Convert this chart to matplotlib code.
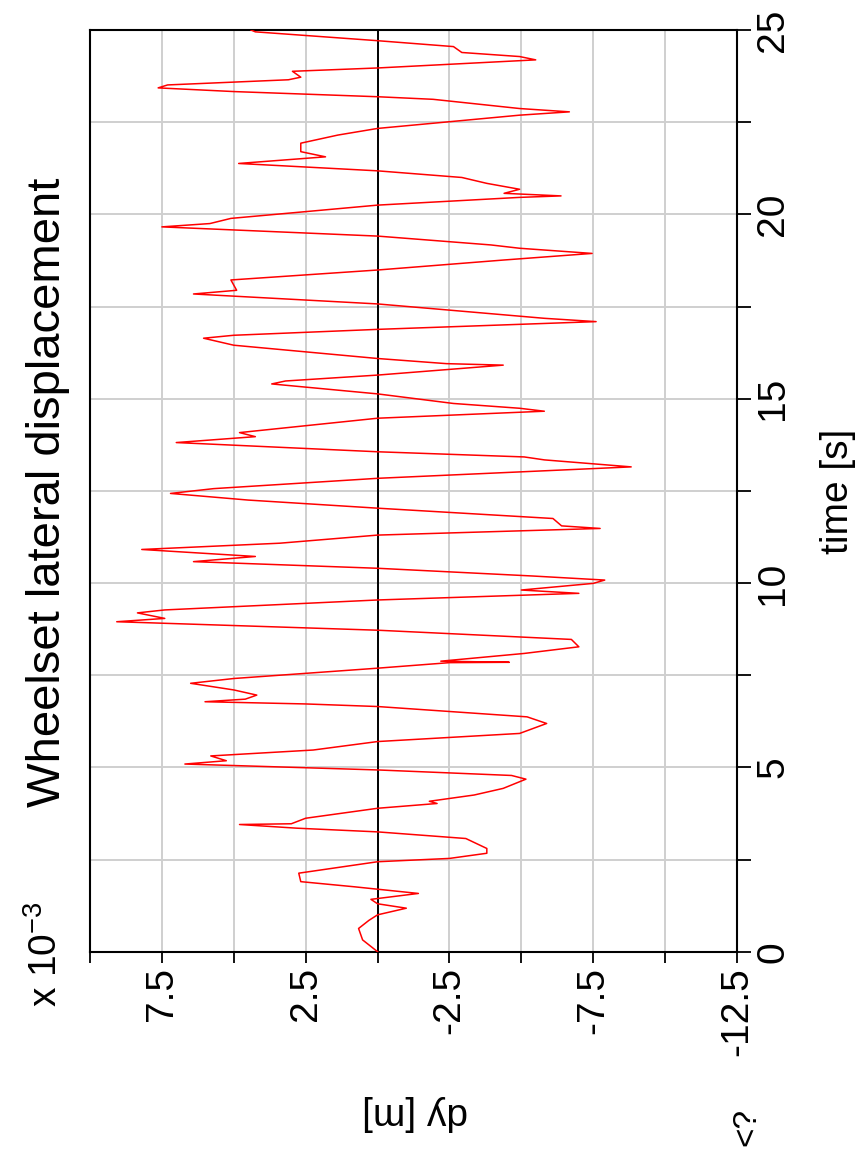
import numpy as np
import matplotlib
matplotlib.use('Agg')
import matplotlib.pyplot as plt
from matplotlib.ticker import MultipleLocator

plt.rcParams['font.family'] = ['Liberation Sans', 'DejaVu Sans']

# time [s] and lateral displacement dy [x 1e-3 m]
time = [0.00, 0.32, 0.63, 0.85, 1.00, 1.18, 1.30, 1.42, 1.58, 1.76, 1.90, 2.13,
        2.44, 2.53, 2.67, 2.80, 3.07, 3.25, 3.35, 3.45, 3.47, 3.62, 3.89, 4.02,
        4.08, 4.25, 4.43, 4.68, 4.78, 4.93, 5.09, 5.18, 5.31, 5.47, 5.70, 5.92,
        6.19, 6.37, 6.65, 6.72, 6.78, 6.85, 6.96, 7.10, 7.28, 7.41, 7.69, 7.84,
        7.85, 7.88, 8.09, 8.27, 8.47, 8.72, 8.95, 9.04, 9.19, 9.27, 9.54, 9.72,
        9.81, 9.99, 10.08, 10.19, 10.40, 10.58, 10.72, 10.91, 11.08, 11.30, 11.48,
        11.55, 11.75, 12.03, 12.25, 12.43, 12.56, 12.84, 13.15, 13.34, 13.42,
        13.56, 13.81, 13.97, 14.08, 14.47, 14.66, 14.74, 14.87, 15.13, 15.40,
        15.48, 15.64, 15.91, 15.95, 16.09, 16.45, 16.64, 16.72, 16.88, 17.09,
        17.18, 17.57, 17.84, 17.94, 18.22, 18.49, 18.76, 18.94, 19.08, 19.17,
        19.41, 19.66, 19.75, 19.89, 20.25, 20.46, 20.50, 20.57, 20.68, 20.84,
        21.00, 21.18, 21.38, 21.56, 21.70, 21.93, 22.15, 22.33, 22.69, 22.78,
        22.87, 23.12, 23.19, 23.33, 23.43, 23.51, 23.65, 23.72, 23.88, 23.97,
        24.19, 24.28, 24.39, 24.55, 24.71, 24.95, 25.00]
dy = [0.0, 0.52, 0.66, 0.3, 0.0, -1.0, 0.0, 0.23, -1.42, 0.8, 2.67, 2.74,
      0.0, -2.5, -3.8, -3.8, -3.07, 0.0, 2.8, 4.8, 3.0, 2.5, 0.0, -2.07,
      -1.8, -3.36, -4.37, -5.16, -4.66, 0.0, 6.7, 5.26, 5.8, 2.24, 0.0, -4.94,
      -5.88, -5.2, 0.0, 2.5, 6.0, 4.6, 4.2, 5.0, 6.5, 5.0, 0.0, -2.5,
      -4.58, -2.2, -5.1, -7.0, -6.74, 0.0, 9.07, 7.4, 8.35, 7.4, 0.0, -7.0,
      -5.0, -7.5, -7.9, -5.4, 0.0, 6.4, 4.25, 8.2, 3.4, 0.0, -7.74,
      -6.4, -6.1, 0.0, 4.5, 7.2, 5.7, 0.0, -8.82, -5.8, -5.1,
      0.0, 7.0, 4.25, 4.8, 0.0, -5.8, -4.94, -2.64, 0.0, 3.68,
      3.2, 0.0, -4.37, -2.4, 0.0, 5.0, 6.05, 5.0, 0.0, -7.6,
      -5.8, 0.0, 6.4, 4.9, 5.1, 0.0, -4.37, -7.46, -4.94, -3.94,
      0.0, 7.5, 5.83, 5.1, 0.0, -4.94, -6.38, -4.4, -4.94, -3.8,
      -2.93, 0.0, 4.83, 1.81, 2.67, 2.67, 1.38, 0.0, -4.94, -6.67,
      -4.94, -1.93, 0.0, 5.0, 7.63, 7.3, 3.1, 2.67, 2.96, 0.0,
      -5.5, -4.94, -2.93, -2.64, 0.0, 4.25, 4.4]

dy_ticks = [7.5, 2.5, -2.5, -7.5, -12.5]
time_ticks = [0, 5, 10, 15, 20, 25]

W, H = 860, 1150
fig = plt.figure(figsize=(W / 100, H / 100), dpi=100)
# the whole chart is drawn turned a quarter turn: dy runs right-to-left, time upward
ax = fig.add_axes([90 / W, 1 - 951.7 / H, 647 / W, 921.7 / H])

ax.plot(dy, time, color='red', lw=1.1, zorder=3)
ax.axvline(0, color='black', lw=1.4, zorder=2)

ax.set_xlim(10, -12.5)
ax.set_ylim(0, 25)

ax.set_xticks(dy_ticks)
ax.set_xticklabels([f'{v:g}' for v in dy_ticks])
ax.xaxis.set_minor_locator(MultipleLocator(2.5))
ax.yaxis.tick_right()
ax.set_yticks(time_ticks)
ax.yaxis.set_minor_locator(MultipleLocator(2.5))

ax.grid(which='both', color='#cfcfcf', lw=1.4, zorder=0)
ax.set_axisbelow(True)
for s in ax.spines.values():
    s.set_linewidth(1.5)
    s.set_color('black')

ax.tick_params(axis='x', which='both', length=8, width=1.3, pad=3,
               labelsize=28, labelrotation=90)
ax.tick_params(axis='y', which='both', length=10, width=1.3, pad=3,
               labelsize=28, labelrotation=90, right=True, left=False)
for lbl in ax.get_yticklabels():
    lbl.set_va('center')

fig.text(48 / W, 1 - 492 / H, 'Wheelset lateral displacement', rotation=90,
         fontsize=34, ha='center', va='center')
fig.text(838 / W, 1 - 491 / H, 'time [s]', rotation=90, fontsize=28,
         ha='center', va='center')
fig.text(415 / W, 1 - 1113 / H, 'dy [m]', rotation=180, fontsize=28,
         ha='center', va='center')
fig.text(65 / W, 1 - 1007 / H, r'x 10$^{\mathregular{-3}}$', rotation=90,
         fontsize=28, ha='right', va='bottom')
fig.text(747 / W, 1 - 1108 / H, '<?', rotation=90, fontsize=24,
         ha='center', va='top')

fig.savefig('out.png', dpi=100)
